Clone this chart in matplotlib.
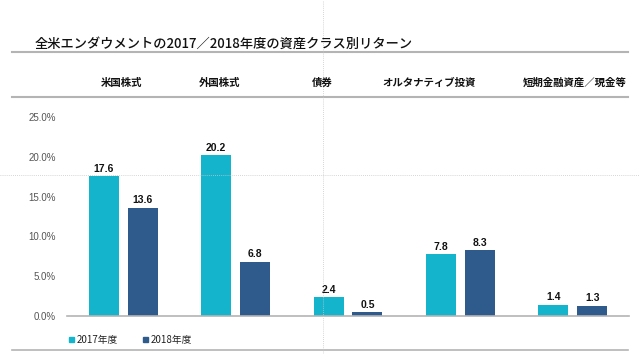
import numpy as np
import matplotlib.pyplot as plt
from matplotlib.lines import Line2D

plt.rcParams['font.family'] = ['Noto Sans CJK JP', 'DejaVu Sans']

# data
categories = ["米国株式", "外国株式", "債券", "オルタナティブ投資", "短期金融資産／現金等"]
series_names = ["2017年度", "2018年度"]
returns_2017 = [17.6, 20.2, 2.4, 7.8, 1.4]
returns_2018 = [13.6, 6.8, 0.5, 8.3, 1.3]
yticks = [0, 5, 10, 15, 20, 25]

title = "全米エンダウメントの2017／2018年度の資産クラス別リターン"

c17 = "#14B4CC"
c18 = "#2F5A8C"
grey = "#B4B4B4"

fig = plt.figure(figsize=(6.4, 3.54), dpi=100)
W, H = 640, 354


def fx(px):
    return px / W


def fy(py):
    return 1 - py / H


# title and header rules
fig.text(fx(35), fy(44), title, fontsize=9.5, fontweight="medium", va="center", ha="left",
         color="#111111")
for yy in (52, 97):
    fig.add_artist(Line2D([fx(12), fx(628)], [fy(yy), fy(yy)], color=grey, lw=1.5))
fig.add_artist(Line2D([fx(12), fx(628)], [fy(350), fy(350)], color=grey, lw=1.2))

# column headers
header_x = [122, 220, 322, 429, 575]
for lab, hx in zip(categories, header_x):
    fig.text(fx(hx), fy(83), lab, fontsize=7.5, fontweight="bold", ha="center", va="center",
             color="#111111")

# crosshair guides
fig.add_artist(Line2D([fx(323), fx(323)], [0, 1], color="#C8C8C8", lw=0.6, ls=(0, (1, 1.5))))
fig.add_artist(Line2D([0, 1], [fy(175), fy(175)], color="#C8C8C8", lw=0.6, ls=(0, (1, 1.5))))

# bars
ax = fig.add_axes([fx(67), fy(316), fx(629) - fx(67), fy(117) - fy(316)])
x = np.arange(len(categories))
bw = 0.267
off = 0.173
b1 = ax.bar(x - off, returns_2017, bw, color=c17, zorder=2)
b2 = ax.bar(x + off, returns_2018, bw, color=c18, zorder=2)
for bars, vals in ((b1, returns_2017), (b2, returns_2018)):
    for r, v in zip(bars, vals):
        ax.text(r.get_x() + r.get_width() / 2, v + 0.3, f"{v:.1f}", ha="center", va="bottom",
                fontsize=7.5, fontweight="bold", family="Liberation Sans", color="#111111")

ax.set_xlim(-0.5, 4.5)
ax.set_ylim(0, 25)
ax.set_yticks(yticks)
ax.set_yticklabels([f"{t:.1f}%" for t in yticks], fontsize=7, color="#555555",
                   family="Liberation Sans")
ax.set_xticks([])
ax.tick_params(axis="y", length=0, pad=8)
for s in ("top", "right", "left"):
    ax.spines[s].set_visible(False)
ax.spines["bottom"].set_color(grey)
ax.spines["bottom"].set_linewidth(1.2)
ax.patch.set_alpha(0)

# legend
leg_x = [69, 143]
for name, col, lx in zip(series_names, (c17, c18), leg_x):
    fig.add_artist(plt.Rectangle((fx(lx), fy(342)), fx(5), 5 / H, color=col))
    fig.text(fx(lx + 8), fy(339.5), name, fontsize=7, va="center", ha="left", color="#222222")

fig.savefig("out.png", dpi=100)
